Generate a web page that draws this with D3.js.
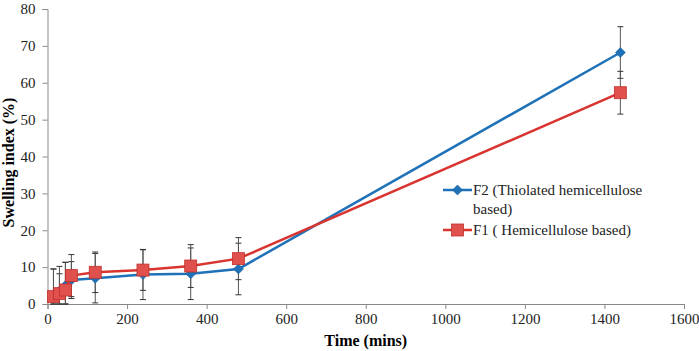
<!DOCTYPE html>
<html>
<head>
<meta charset="utf-8">
<script src="https://cdn.jsdelivr.net/npm/d3@7"></script>
<style>
  body { margin: 0; background: #fff; }
  svg text { font-family: "Liberation Serif", "Times New Roman", serif; }
</style>
</head>
<body>
<div id="chart"></div>
<script>
// dades llegides del grafic
const times = [15, 30, 45, 60, 120, 240, 360, 480, 1440];
const f2Values = [2.5, 3.5, 5.0, 6.5, 7.0, 8.0, 8.2, 9.5, 68.2];
const f2Errors = [7.0, 4.7, 6.3, 5.0, 6.7, 6.8, 7.0, 7.0, 7.0];
const f1Values = [2.0, 2.8, 3.8, 7.7, 8.6, 9.2, 10.3, 12.3, 57.3];
const f1Errors = [7.5, 7.4, 7.5, 5.7, 5.5, 5.5, 5.8, 5.7, 5.8];
const xTicks = [0, 200, 400, 600, 800, 1000, 1200, 1400, 1600];
const yTicks = [0, 10, 20, 30, 40, 50, 60, 70, 80];
const legendLabels = ["F2 (Thiolated hemicellulose", "based)", "F1 ( Hemicellulose based)"];

const series = [
    {name: "F2", values: f2Values, errors: f2Errors, color: "#1f72b8", shape: "diamond"},
    {name: "F1", values: f1Values, errors: f1Errors, color: "#d9342f", shape: "square"}
];

// dimensions i marges
const W = 699, H = 351;
const margin = {top: 9, right: 15, bottom: 47, left: 47.5};
const width = W - margin.left - margin.right;
const height = H - margin.top - margin.bottom;
const serif = "'Liberation Serif', 'Times New Roman', serif";

const svg = d3.select("#chart")
    .append("svg")
        .attr("width", W)
        .attr("height", H)
    .append("g")
        .attr("transform", `translate(${margin.left}, ${margin.top})`);

// escales
const x = d3.scaleLinear().domain([0, 1600]).range([0, width]);
const y = d3.scaleLinear().domain([0, 80]).range([height, 0]);

// eix X
const gx = svg.append("g")
    .attr("transform", `translate(0, ${height})`)
    .call(d3.axisBottom(x).tickValues(xTicks).tickSize(5).tickPadding(4).tickFormat(d3.format("d")));
gx.attr("font-family", serif).attr("font-size", 15);
gx.selectAll("text").style("fill", "#222");
gx.select(".domain").attr("stroke", "#888");
gx.selectAll(".tick line").attr("stroke", "#888");

// eix Y
const gy = svg.append("g")
    .call(d3.axisLeft(y).tickValues(yTicks).tickSize(5).tickPadding(7));
gy.attr("font-family", serif).attr("font-size", 15);
gy.selectAll("text").style("fill", "#222");
gy.select(".domain").attr("stroke", "#888");
gy.selectAll(".tick line").attr("stroke", "#888");

// titols dels eixos
svg.append("text")
    .attr("x", x(800))
    .attr("y", height + 42)
    .attr("text-anchor", "middle")
    .style("font-size", "16px")
    .style("font-weight", "bold")
    .text("Time (mins)");

svg.append("text")
    .attr("transform", `translate(${-margin.left + 14}, ${height / 2 + 6}) rotate(-90)`)
    .attr("text-anchor", "middle")
    .style("font-size", "16px")
    .style("font-weight", "bold")
    .text("Swelling index (%)");

// barres d'error
series.forEach(function(s) {
    const g = svg.append("g");
    times.forEach(function(t, i) {
        const cx = x(t);
        const top = y(s.values[i] + s.errors[i]);
        const bot = y(Math.max(0, s.values[i] - s.errors[i]));
        g.append("line").attr("x1", cx).attr("x2", cx).attr("y1", top).attr("y2", bot)
            .attr("stroke", "#555").attr("stroke-width", 1);
        [top, bot].forEach(function(yy) {
            g.append("line").attr("x1", cx - 3).attr("x2", cx + 3).attr("y1", yy).attr("y2", yy)
                .attr("stroke", "#333").attr("stroke-width", 1);
        });
    });
});

// linies i marcadors
const line = d3.line().x((d, i) => x(times[i])).y(d => y(d));

function drawMarker(g, shape, cx, cy, color) {
    if (shape === "diamond") {
        g.append("path")
            .attr("d", "M0,-5L5,0L0,5L-5,0Z")
            .attr("transform", `translate(${cx}, ${cy})`)
            .attr("fill", color)
            .attr("stroke", "#1a5f9c").attr("stroke-width", 0.6);
    } else {
        g.append("rect")
            .attr("x", cx - 6).attr("y", cy - 6)
            .attr("width", 12).attr("height", 12)
            .attr("fill", "#e0504d")
            .attr("stroke", "#c0312c").attr("stroke-width", 0.8);
    }
}

series.forEach(function(s) {
    svg.append("path")
        .datum(s.values)
        .attr("d", line)
        .attr("fill", "none")
        .attr("stroke", s.color)
        .attr("stroke-width", 2.5);
    const gm = svg.append("g");
    s.values.forEach(function(v, i) {
        drawMarker(gm, s.shape, x(times[i]), y(v), s.color);
    });
});

// llegenda
const legend = svg.append("g").attr("transform", `translate(${443 - margin.left}, 0)`);
const legendRows = [
    {s: series[0], y: 190 - margin.top, labels: [legendLabels[0], legendLabels[1]]},
    {s: series[1], y: 230 - margin.top, labels: [legendLabels[2]]}
];
legendRows.forEach(function(r) {
    legend.append("line")
        .attr("x1", 0).attr("x2", 29).attr("y1", r.y).attr("y2", r.y)
        .attr("stroke", r.s.color).attr("stroke-width", 2.5);
    drawMarker(legend, r.s.shape, 14.5, r.y, r.s.color);
    r.labels.forEach(function(lab, j) {
        legend.append("text")
            .attr("x", 30)
            .attr("y", r.y + 5 + j * 19)
            .style("font-size", "15px")
            .style("fill", "#222")
            .text(lab);
    });
});
</script>
</body>
</html>
